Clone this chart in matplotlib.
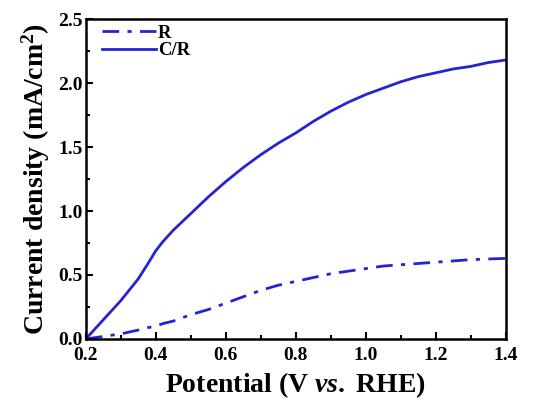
import matplotlib.pyplot as plt
from matplotlib.ticker import MultipleLocator

potential = [0.2, 0.25, 0.3, 0.35, 0.38, 0.4, 0.42, 0.45, 0.5, 0.55, 0.6, 0.65, 0.7, 0.75, 0.8,
             0.85, 0.9, 0.95, 1.0, 1.05, 1.1, 1.15, 1.2, 1.25, 1.3, 1.35, 1.4]
j_r = [0.0, 0.02, 0.04, 0.07, 0.09, 0.10, 0.12, 0.14, 0.19, 0.23, 0.28, 0.33, 0.38, 0.42, 0.45,
       0.48, 0.51, 0.53, 0.55, 0.57, 0.58, 0.59, 0.60, 0.61, 0.62, 0.625, 0.63]
j_cr = [0.0, 0.15, 0.30, 0.47, 0.60, 0.69, 0.76, 0.85, 0.98, 1.11, 1.23, 1.34, 1.44, 1.53, 1.61,
        1.70, 1.78, 1.85, 1.91, 1.96, 2.01, 2.05, 2.08, 2.11, 2.13, 2.16, 2.18]

plt.rcParams['font.family'] = ['Liberation Serif', 'DejaVu Serif']
plt.rcParams['font.weight'] = 'bold'
plt.rcParams['mathtext.fontset'] = 'custom'
plt.rcParams['mathtext.rm'] = 'Liberation Serif:bold'
plt.rcParams['mathtext.it'] = 'Liberation Serif:italic:bold'
plt.rcParams['mathtext.bf'] = 'Liberation Serif:bold'

blue = '#2424d4'

fig = plt.figure(figsize=(5.33, 4.05), dpi=100)
ax = fig.add_axes([0.161, 0.163, 0.788, 0.790])

ax.plot(potential, j_r, color=blue, lw=2, ls=(0, (6, 3, 1.5, 3)), label='R')
ax.plot(potential, j_cr, color=blue, lw=2, label='C/R')

ax.set_xlim(0.2, 1.4)
ax.set_ylim(0, 2.5)
ax.xaxis.set_major_locator(MultipleLocator(0.2))
ax.xaxis.set_minor_locator(MultipleLocator(0.1))
ax.yaxis.set_major_locator(MultipleLocator(0.5))
ax.yaxis.set_minor_locator(MultipleLocator(0.25))
ax.tick_params(which='both', direction='in', width=1.5, labelsize=14)
ax.tick_params(axis='x', pad=6)
ax.tick_params(axis='y', pad=2)
ax.tick_params(which='major', length=5)
ax.tick_params(which='minor', length=3)
for s in ax.spines.values():
    s.set_linewidth(1.8)

ax.set_xlabel('Potential (V $\\mathit{vs.}$ RHE)', fontsize=20, fontweight='bold', labelpad=4)
ax.set_ylabel('Current density (mA/cm$^{2}$)', fontsize=20, fontweight='bold', labelpad=5)

ax.legend(loc='upper left', bbox_to_anchor=(0.02, 1.005), frameon=False, fontsize=13.5,
          handlelength=2.9, borderaxespad=0, labelspacing=0.0, handletextpad=0.1)

fig.savefig('out.png', dpi=100)
